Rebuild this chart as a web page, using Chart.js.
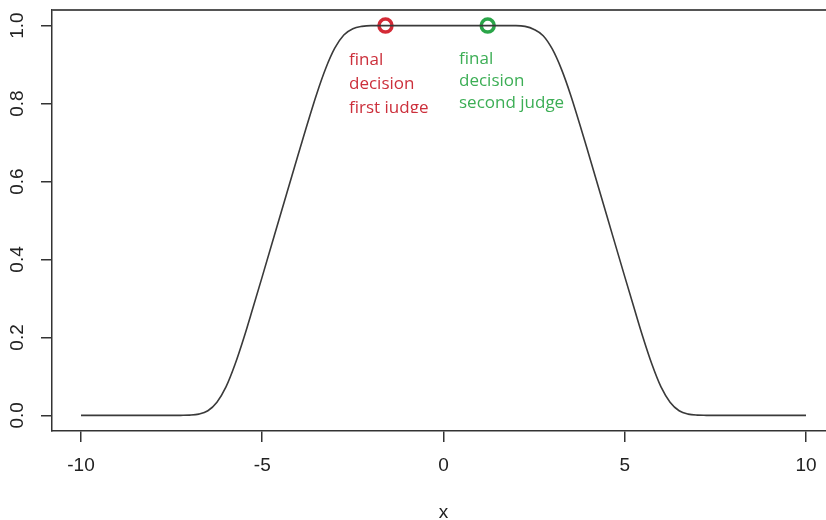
<!DOCTYPE html>
<html>
<head>
<meta charset="utf-8">
<script src="https://cdn.jsdelivr.net/npm/chart.js@4/dist/chart.umd.min.js"></script>
<style>
  html, body { margin: 0; padding: 0; background: #fff; overflow: hidden; }
  canvas { display: block; }
</style>
</head>
<body>
<canvas id="myChart" width="826" height="520"></canvas>
<script>
// curve
const xVals = [-10, -9, -8, -7.5, -7.25, -7, -6.75, -6.5, -6.25, -6, -5.75, -5.5, -5.25, -5, -4.5, -4, -3.5, -3.25, -3, -2.75, -2.5, -2.25, -2, -1.5, -1, 0,
               1, 1.5, 2, 2.25, 2.5, 2.75, 3, 3.25, 3.5, 4, 4.5, 5, 5.25, 5.5, 5.75, 6, 6.25, 6.5, 6.75, 7, 7.25, 7.5, 8, 9, 10];
const yVals = [0, 0, 0, 0, 0.0002, 0.0007, 0.0033, 0.012, 0.034, 0.073, 0.131, 0.201, 0.278, 0.356, 0.514, 0.672, 0.824, 0.89, 0.942, 0.976, 0.992, 0.998, 1, 1, 1, 1,
               1, 1, 1, 0.998, 0.99, 0.974, 0.94, 0.889, 0.824, 0.672, 0.514, 0.356, 0.278, 0.201, 0.131, 0.073, 0.034, 0.012, 0.0033, 0.0007, 0.0002, 0, 0, 0, 0];

// the two marked decisions
const judgeX = [-1.6, 1.22];
const judgeY = [1, 1];
const judgeColors = ['#d42a36', '#2aa548'];
const judgeTextColors = ['#cc2f3b', '#3cae55'];
const judgeLabels = [['final', 'decision', 'first judge'], ['final', 'decision', 'second judge']];

const xTicks = [-10, -5, 0, 5, 10];
const yTicks = [0, 0.2, 0.4, 0.6, 0.8, 1.0];
const xTitle = 'x';

const axisColor = '#333';

const curve = xVals.map((x, i) => ({ x: x, y: yVals[i] }));

// top border, tick labels, x title, annotations
const extras = {
    id: 'extras',
    afterDraw(chart) {
        const c = chart.ctx;
        const a = chart.chartArea;
        const xs = chart.scales.x;
        const ys = chart.scales.y;
        c.save();
        c.strokeStyle = '#555';
        c.lineWidth = 1.8;
        c.beginPath();
        c.moveTo(a.left, a.top);
        c.lineTo(a.right, a.top);
        c.stroke();

        c.fillStyle = '#222';
        c.font = '19px "Liberation Sans"';
        c.textAlign = 'center';
        c.textBaseline = 'middle';
        xTicks.forEach(v => c.fillText(String(v), xs.getPixelForValue(v), 466));
        yTicks.forEach(v => {
            c.save();
            c.translate(18, ys.getPixelForValue(v));
            c.rotate(-Math.PI / 2);
            c.fillText(v.toFixed(1), 0, 0);
            c.restore();
        });
        c.fillText(xTitle, 443.5, 513);

        c.font = '17px "Open Sans"';
        c.textAlign = 'left';
        c.textBaseline = 'alphabetic';
        // red text is cut off in the original
        c.save();
        c.beginPath();
        c.rect(0, 0, 826, 113);
        c.clip();
        c.fillStyle = judgeTextColors[0];
        judgeLabels[0].forEach((t, i) => c.fillText(t, 349, 65 + i * 24));
        c.restore();
        c.fillStyle = judgeTextColors[1];
        judgeLabels[1].forEach((t, i) => c.fillText(t, 459, 64 + i * 22));
        c.restore();
    }
};

const ctx = document.getElementById('myChart');
new Chart(ctx, {
    type: 'line',
    data: {
        datasets: [{
            data: curve,
            borderColor: '#3a3a3a',
            borderWidth: 1.6,
            pointRadius: 0,
            cubicInterpolationMode: 'monotone',
            fill: false
        }, {
            data: [{ x: judgeX[0], y: judgeY[0] }],
            showLine: false,
            pointRadius: 6.5,
            pointBorderWidth: 3.5,
            pointBorderColor: judgeColors[0],
            pointBackgroundColor: 'transparent'
        }, {
            data: [{ x: judgeX[1], y: judgeY[1] }],
            showLine: false,
            pointRadius: 6.5,
            pointBorderWidth: 3.5,
            pointBorderColor: judgeColors[1],
            pointBackgroundColor: 'transparent'
        }]
    },
    options: {
        responsive: false,
        animation: false,
        layout: { autoPadding: false, padding: { top: 10, right: 0, left: 0, bottom: 0 } },
        plugins: { legend: { display: false }, tooltip: { enabled: false } },
        scales: {
            x: {
                type: 'linear',
                min: -10.8,
                max: 10.552,
                afterBuildTicks: s => { s.ticks = xTicks.map(v => ({ value: v })); },
                afterFit: s => { s.height = 89; },
                border: { display: true, color: axisColor, width: 1.5 },
                grid: { drawOnChartArea: false, drawTicks: true, tickLength: 11, color: axisColor, lineWidth: 1.5 },
                ticks: { display: false }
            },
            y: {
                type: 'linear',
                min: -0.04,
                max: 1.04,
                afterBuildTicks: s => { s.ticks = yTicks.map(v => ({ value: v })); },
                afterFit: s => { s.width = 52; },
                border: { display: true, color: axisColor, width: 1.5 },
                grid: { drawOnChartArea: false, drawTicks: true, tickLength: 11, color: axisColor, lineWidth: 1.5 },
                ticks: { display: false }
            }
        }
    },
    plugins: [extras]
});
</script>
</body>
</html>
